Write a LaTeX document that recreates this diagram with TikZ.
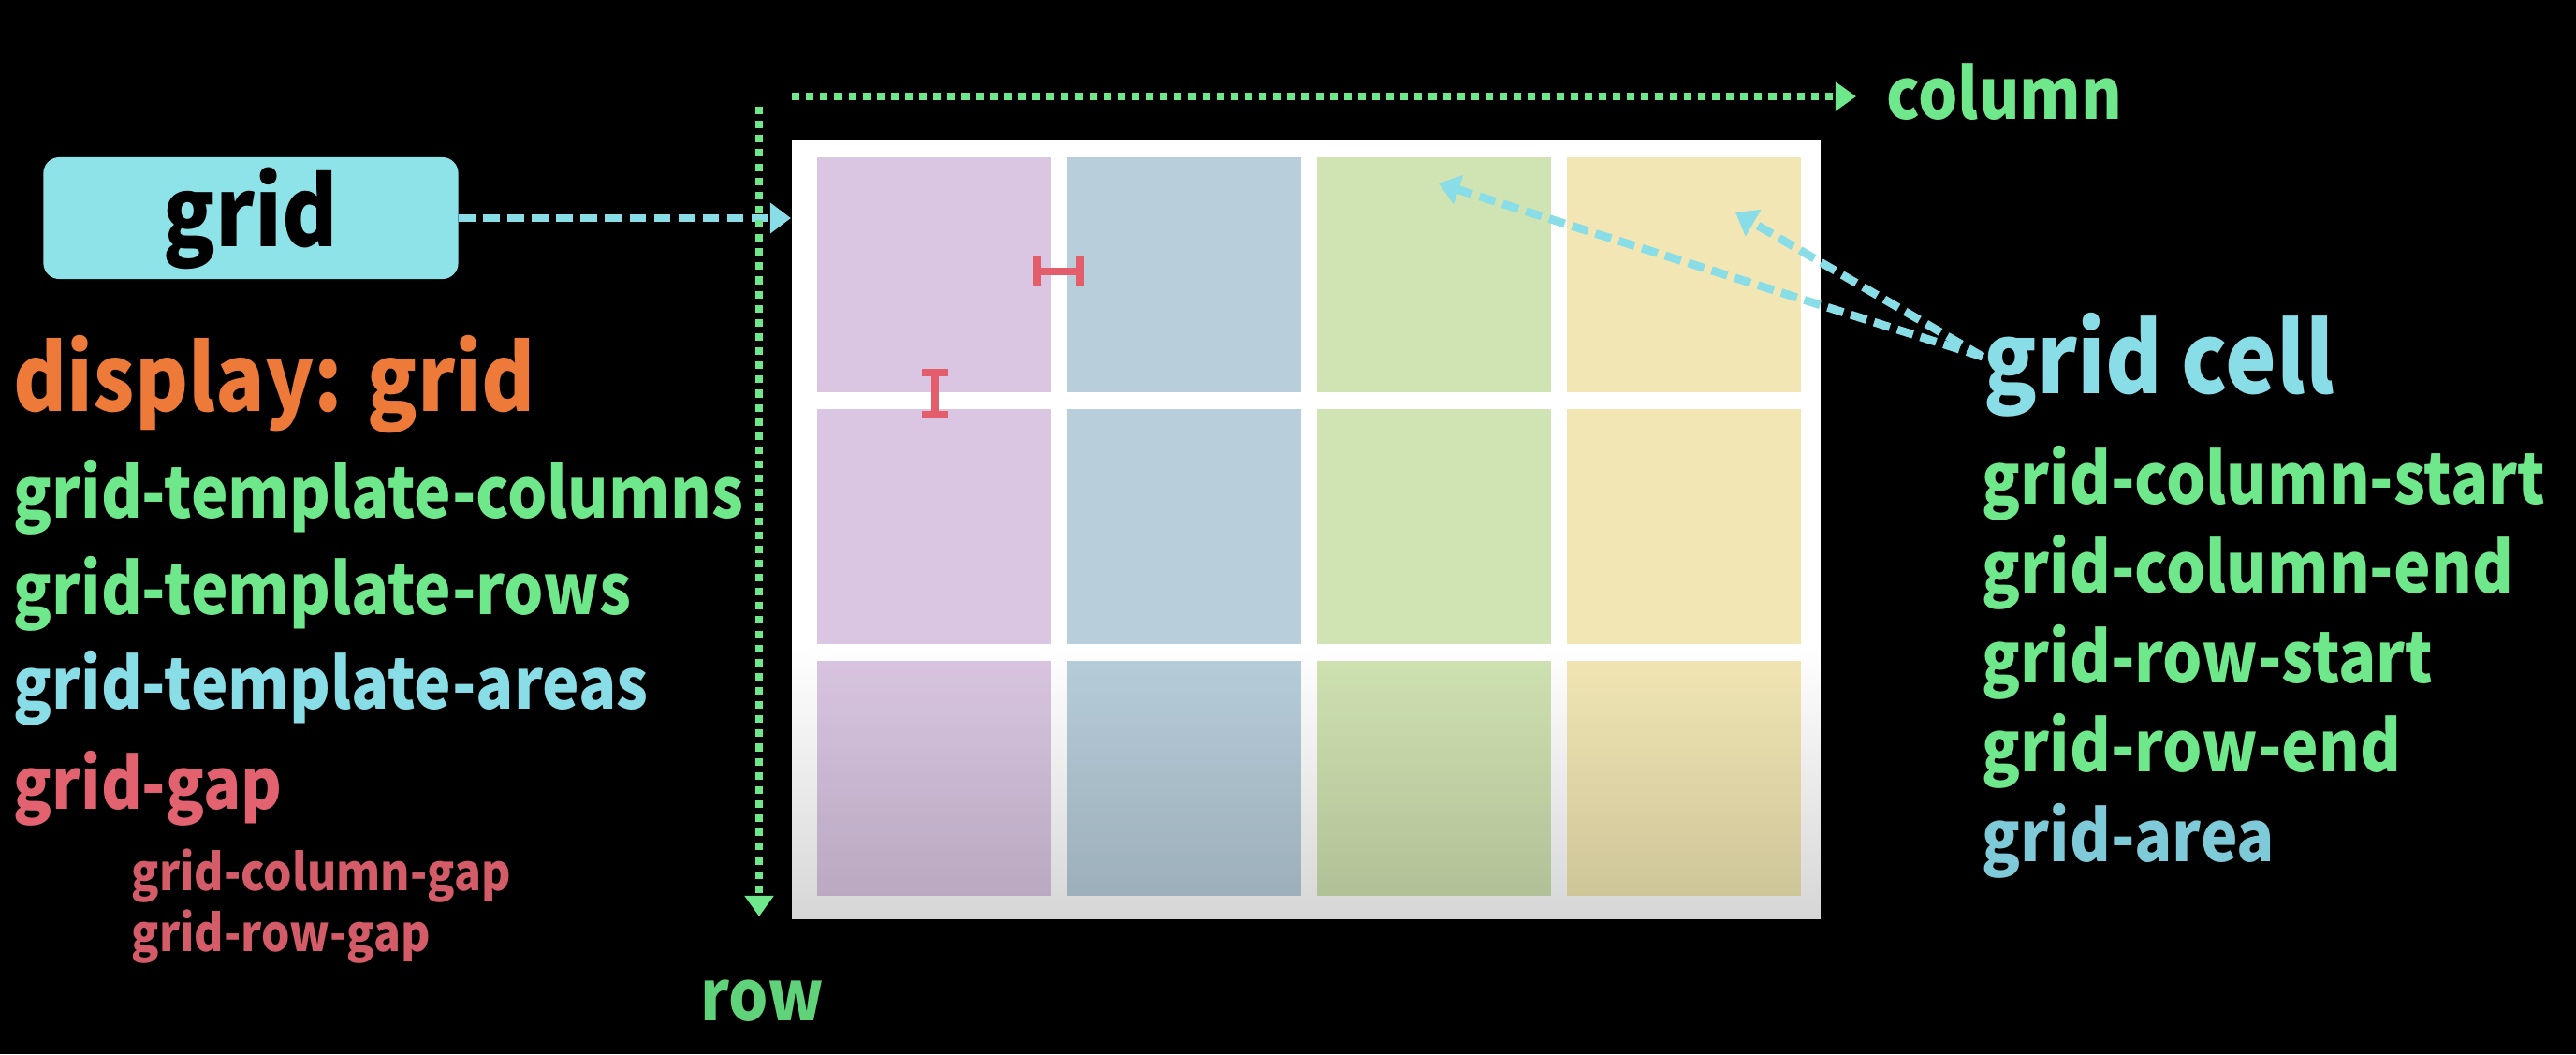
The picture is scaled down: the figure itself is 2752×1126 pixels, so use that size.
\documentclass[tikz,border=0pt]{standalone}
\usepackage{fontspec}
\setmainfont{Noto Sans CJK JP}[BoldFont={* Black}, FakeStretch=0.89]
\usetikzlibrary{arrows.meta,fadings}
\definecolor{cbox}{HTML}{8DE3E8}
\definecolor{ccyan}{HTML}{88DDE6}
\definecolor{ccyan2}{HTML}{7FCAD8}
\definecolor{cgreen}{HTML}{6FE88C}
\definecolor{cgreen2}{HTML}{5FD27A}
\definecolor{corange}{HTML}{EE7A3A}
\definecolor{cred}{HTML}{E2626F}
\definecolor{cred2}{HTML}{D45C69}
\definecolor{cgap}{HTML}{E35E6A}
\definecolor{cellP}{HTML}{DAC6E2}
\definecolor{cellB}{HTML}{B8CEDB}
\definecolor{cellG}{HTML}{D0E3B2}
\definecolor{cellY}{HTML}{F2E7B4}
\tikzfading[name=fadedown, top color=transparent!100, bottom color=transparent!0]
\begin{document}
\begin{tikzpicture}[x=0.01cm,y=-0.01cm,
  txt/.style={inner sep=0pt, anchor=base west},
  dispfont/.style={font=\bfseries\fontsize{27.8pt}{33pt}\selectfont},
  cellfont/.style={font=\bfseries\fontsize{29.5pt}{35pt}\selectfont},
  midfont/.style={font=\bfseries\fontsize{21.3pt}{26pt}\selectfont},
  smallfont/.style={font=\bfseries\fontsize{15.3pt}{19pt}\selectfont},
  cell/.style={inner sep=0pt, minimum width=2.5cm, minimum height=2.51cm, draw=none},
  gridbox/.style={fill=cbox, rounded corners=0.17cm, minimum width=4.43cm, minimum height=1.3cm, inner sep=0pt, text=black, font=\bfseries\fontsize{28.9pt}{34pt}\selectfont},
  axisline/.style={draw=cgreen, line width=2.3pt, dash pattern=on 2.3pt off 2pt, -{Triangle[length=6.3pt,width=8.5pt]}},
  cydash/.style={draw=ccyan, line width=2.5pt, dash pattern=on 5pt off 2.4pt, -{Triangle[length=6.3pt,width=9pt]}},
  gapbar/.style={fill=cgap, draw=none}
]
\useasboundingbox (0,0) rectangle (2752,1126);
\fill[black] (0,0) rectangle (2752,1126);

% grid container
\node[fill=white, inner sep=0pt, minimum width=10.99cm, minimum height=8.32cm] (cont) at (1395.5,566) {};
\foreach \c/\col in {0/cellP,1/cellB,2/cellG,3/cellY}{
  \foreach \r in {0,1,2}{
    \node[cell, fill=\col] (c\r\c) at ({998+267*\c},{293.5+269*\r}) {};
  }
}
\fill[black, opacity=0.16, path fading=fadedown] (846,690) rectangle (1945,983);

% gap markers
\fill[gapbar] (1104,274) rectangle (1112,306);
\fill[gapbar] (1150,274) rectangle (1158,306);
\fill[gapbar] (1108,286) rectangle (1154,294);
\fill[gapbar] (985,394) rectangle (1013,402);
\fill[gapbar] (985,439) rectangle (1013,447);
\fill[gapbar] (995,398) rectangle (1003,443);

% left side
\node[gridbox] (gbox) at (268,233) {grid};
\draw[cydash] (gbox.east) -- (cont.west |- gbox.east);

\node[txt, dispfont, text=corange] (disp) at (14,439) {display: grid};
\node[txt, midfont, text=cgreen] (gtc) at (14,553) {grid-template-columns};
\node[txt, midfont, text=cgreen] (gtr) at (14,656) {grid-template-rows};
\node[txt, midfont, text=ccyan] (gta) at (14,757) {grid-template-areas};
\node[txt, midfont, text=cred] (gg) at (14,864) {grid-gap};
\node[txt, smallfont, text=cred2] (gcg) at (140,951) {grid-column-gap};
\node[txt, smallfont, text=cred2] (grg) at (140,1016) {grid-row-gap};

% axes
\coordinate (hstart) at (846,103);
\coordinate (hend) at (1983,103);
\coordinate (vstart) at (811,114);
\coordinate (vend) at (811,979);
\draw[axisline] (hstart) -- (hend);
\draw[axisline] (vstart) -- (vend);
\node[txt, midfont, text=cgreen] (colname) at (2015,127) {column};
\node[inner sep=0pt, anchor=base, midfont, text=cgreen2] (rowname) at (814,1090) {row};

% right side
\node[txt, cellfont, text=ccyan] (gcell) at (2119,420) {grid cell};
\coordinate (gcpt) at (2118,381);
\coordinate (t1) at (1537,196);
\coordinate (t2) at (1854,227);
\draw[cydash] (gcpt) -- (t1);
\draw[cydash] (gcpt) -- (t2);

\node[txt, midfont, text=cgreen] (gcs) at (2117,538) {grid-column-start};
\node[txt, midfont, text=cgreen] (gce) at (2117,633) {grid-column-end};
\node[txt, midfont, text=cgreen] (grs) at (2117,729) {grid-row-start};
\node[txt, midfont, text=cgreen] (gre) at (2117,824) {grid-row-end};
\node[txt, midfont, text=ccyan2] (ga) at (2117,920) {grid-area};
\end{tikzpicture}
\end{document}
